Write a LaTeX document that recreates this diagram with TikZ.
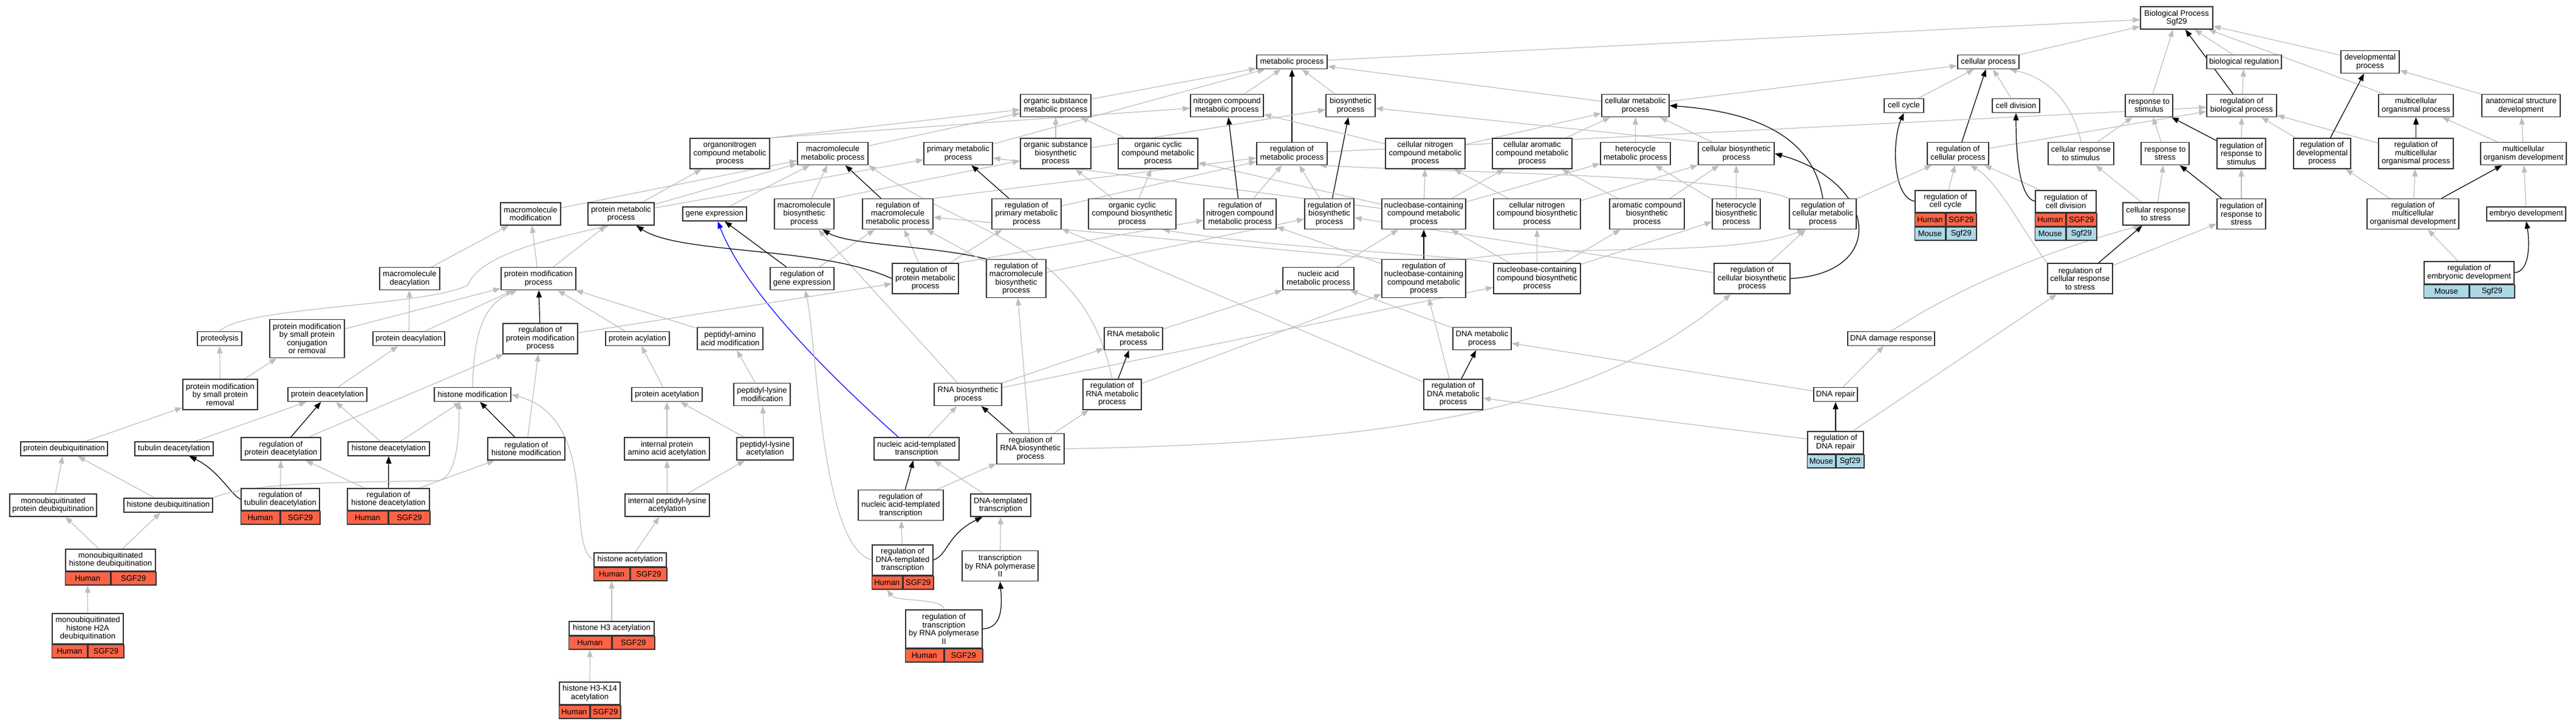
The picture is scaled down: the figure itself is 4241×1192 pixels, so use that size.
\documentclass[tikz,border=0pt]{standalone}
\usepackage{fontspec}
\setmainfont{Liberation Sans}
\usetikzlibrary{arrows.meta}
\pgfdeclarelayer{background}
\pgfsetlayers{background,main}
\definecolor{tomatoc}{HTML}{FF6347}
\definecolor{lbluec}{HTML}{ADD8E6}
\definecolor{egray}{HTML}{BEBEBE}
\definecolor{bordc}{HTML}{333333}
\newcommand\lbl{\fontsize{13}{13.5}\selectfont}
\tikzset{
 gobox/.style={draw=bordc, line width=1.5pt, fill=white, inner sep=0pt, align=center, font=\lbl},
 hcell/.style={draw=bordc, line width=1.5pt, fill=tomatoc, inner sep=0pt, minimum height=21.5pt, font=\lbl},
 mcell/.style={draw=bordc, line width=1.5pt, fill=lbluec, inner sep=0pt, minimum height=21.5pt, font=\lbl},
 gedge/.style={draw=egray, line width=1.2pt, -{Triangle[length=12pt,width=9pt]}},
 kedge/.style={draw=black, line width=1.2pt, -{Triangle[length=12pt,width=9pt]}},
 bedge/.style={draw=blue, line width=1.2pt, -{Triangle[length=12pt,width=9pt]}},
}
% id cx cy w h text
\newcommand\GOn[6]{\node[gobox, minimum width=#4pt, minimum height=#5pt] (#1) at (#2,#3) {#6};}
% id cx ytop w htext text  (Human/SGF29 row)
\newcommand\GOh[6]{%
 \node[gobox, minimum width=#4pt, minimum height=#5pt, anchor=north] (#1) at (#2,#3) {#6};
 \node[hcell, minimum width=0.5*#4pt, anchor=north east] (#1h) at (#1.south) {Human};
 \node[hcell, minimum width=0.5*#4pt, anchor=north west] (#1s) at (#1.south) {SGF29};}
\newcommand\GOhm[6]{%
 \GOh{#1}{#2}{#3}{#4}{#5}{#6}
 \node[mcell, minimum width=0.5*#4pt, anchor=north] (#1m) at (#1h.south) {Mouse};
 \node[mcell, minimum width=0.5*#4pt, anchor=north] (#1g) at (#1s.south) {Sgf29};}
\newcommand\GOm[6]{%
 \node[gobox, minimum width=#4pt, minimum height=#5pt, anchor=north] (#1) at (#2,#3) {#6};
 \node[mcell, minimum width=0.5*#4pt, anchor=north east] (#1m) at (#1.south) {Mouse};
 \node[mcell, minimum width=0.5*#4pt, anchor=north west] (#1g) at (#1.south) {Sgf29};}
\newcommand\edgG[2]{\draw[gedge] (#1) -- (#2);}
\newcommand\edgK[2]{\draw[kedge] (#1) -- (#2);}
\begin{document}
\begin{tikzpicture}[x=1pt,y=-1pt]
\useasboundingbox (0,0) rectangle (4241,1192);
% rank 0-2
\GOn{BP}{3583.5}{29.5}{119}{37}{Biological Process\\Sgf29}
\GOn{mp}{2127}{102}{116}{23}{metabolic process}
\GOn{cp}{3273.5}{102}{101}{23}{cellular process}
\GOn{br}{3694.5}{102}{123}{23}{biological regulation}
\GOn{dp}{3902}{102}{96}{37}{developmental\\process}
\GOn{osmp}{1738}{174}{116}{37}{organic substance\\metabolic process}
\GOn{ncmp}{2020}{174}{120}{37}{nitrogen compound\\metabolic process}
\GOn{bsp}{2223.5}{174}{81}{37}{biosynthetic\\process}
\GOn{cmp}{2692.5}{174}{111}{37}{cellular metabolic\\process}
\GOn{cc}{3134.5}{174}{65}{23}{cell cycle}
\GOn{cd}{3319}{174}{78}{23}{cell division}
\GOn{rts}{3538}{174}{78}{37}{response to\\stimulus}
\GOn{rbp}{3690.5}{174}{115}{37}{regulation of\\biological process}
\GOn{mop}{3977.5}{174}{123}{37}{multicellular\\organismal process}
\GOn{asd}{4150.5}{174}{129}{37}{anatomical structure\\development}
% rank 3
\GOn{oncmp}{1201.5}{253}{131}{50}{organonitrogen\\compound metabolic\\process}
\GOn{mmp}{1371}{253}{116}{37}{macromolecule\\metabolic process}
\GOn{pmp}{1577.5}{253}{113}{37}{primary metabolic\\process}
\GOn{osbp}{1738}{253}{116}{50}{organic substance\\biosynthetic\\process}
\GOn{occmp}{1906.5}{253}{131}{50}{organic cyclic\\compound metabolic\\process}
\GOn{rmp}{2127}{253}{116}{37}{regulation of\\metabolic process}
\GOn{cncmp}{2346.5}{253}{131}{50}{cellular nitrogen\\compound metabolic\\process}
\GOn{cacmp}{2522.5}{253}{131}{50}{cellular aromatic\\compound metabolic\\process}
\GOn{hmp}{2692.5}{253}{115}{37}{heterocycle\\metabolic process}
\GOn{cbp}{2858.5}{253}{125}{37}{cellular biosynthetic\\process}
\GOn{rcp}{3223.5}{253}{101}{37}{regulation of\\cellular process}
\GOn{crsti}{3426}{253}{108}{37}{cellular response\\to stimulus}
\GOn{rtstr}{3564.5}{253}{79}{37}{response to\\stress}
\GOn{rrsti}{3690}{253}{80}{50}{regulation of\\response to\\stimulus}
\GOn{rdp}{3823}{253}{94}{50}{regulation of\\developmental\\process}
\GOn{rmop}{3977.5}{253}{123}{50}{regulation of\\multicellular\\organismal process}
\GOn{mod}{4154.5}{253}{141}{37}{multicellular\\organism development}
% rank 4
\GOn{mm}{873.5}{352.5}{99}{37}{macromolecule\\modification}
\GOn{prmp}{1022.5}{352.5}{109}{37}{protein metabolic\\process}
\GOn{ge}{1176.5}{352.5}{105}{23}{gene expression}
\GOn{mbp}{1324}{352.5}{98}{50}{macromolecule\\biosynthetic\\process}
\GOn{rmmp}{1478}{352.5}{116}{50}{regulation of\\macromolecule\\metabolic process}
\GOn{rpmp}{1690}{352.5}{114}{50}{regulation of\\primary metabolic\\process}
\GOn{occbp}{1864}{352.5}{144}{50}{organic cyclic\\compound biosynthetic\\process}
\GOn{rncmp}{2041.5}{352.5}{119}{50}{regulation of\\nitrogen compound\\metabolic process}
\GOn{rbsp}{2188.5}{352.5}{81}{50}{regulation of\\biosynthetic\\process}
\GOn{nbcmp}{2344}{352.5}{138}{50}{nucleobase-containing\\compound metabolic\\process}
\GOn{cncbp}{2530.5}{352.5}{143}{50}{cellular nitrogen\\compound biosynthetic\\process}
\GOn{acbp}{2711.5}{352.5}{123}{50}{aromatic compound\\biosynthetic\\process}
\GOn{hbp}{2858.5}{352.5}{79}{50}{heterocycle\\biosynthetic\\process}
\GOn{rcmp}{3001}{352.5}{110}{50}{regulation of\\cellular metabolic\\process}
\GOhm{rcc}{3203}{313}{100}{36}{regulation of\\cell cycle}
\GOhm{rcd}{3401}{313}{100}{36}{regulation of\\cell division}
\GOn{crstr}{3549.5}{352.5}{109}{37}{cellular response\\to stress}
\GOn{rrstr}{3690}{352.5}{80}{50}{regulation of\\response to\\stress}
\GOn{rmod}{3972.5}{352.5}{151}{50}{regulation of\\multicellular\\organismal development}
\GOn{ed}{4159}{352.5}{130}{23}{embryo development}
% rank 5
\GOn{mdeac}{674.5}{459}{99}{37}{macromolecule\\deacylation}
\GOn{pmodp}{886.5}{459}{123}{37}{protein modification\\process}
\GOn{rge}{1320.5}{459}{105}{37}{regulation of\\gene expression}
\GOn{rprmp}{1523.5}{459}{109}{50}{regulation of\\protein metabolic\\process}
\GOn{rmbp}{1673}{459}{98}{63}{regulation of\\macromolecule\\biosynthetic\\process}
\GOn{namp}{2170.5}{459}{117}{37}{nucleic acid\\metabolic process}
\GOn{rnbcmp}{2344}{459}{138}{63}{regulation of\\nucleobase-containing\\compound metabolic\\process}
\GOn{nbcbp}{2530.5}{459}{143}{50}{nucleobase-containing\\compound biosynthetic\\process}
\GOn{rcbp}{2884.5}{459}{125}{50}{regulation of\\cellular biosynthetic\\process}
\GOn{rcrstr}{3424.5}{459}{107}{50}{regulation of\\cellular response\\to stress}
\GOm{red}{4065}{430}{148}{37}{regulation of\\embryonic development}
% rank 6
\GOn{prot}{361.5}{558}{73}{23}{proteolysis}
\GOn{pmsp}{505.5}{558}{123}{63}{protein modification\\by small protein\\conjugation\\or removal}
\GOn{pdeacy}{673}{558}{118}{23}{protein deacylation}
\GOn{rpmodp}{889.5}{558}{123}{50}{regulation of\\protein modification\\process}
\GOn{pacy}{1049.5}{558}{105}{23}{protein acylation}
\GOn{paam}{1202}{558}{108}{37}{peptidyl-amino\\acid modification}
\GOn{rnamp}{1866}{558}{96}{37}{RNA metabolic\\process}
\GOn{dnamp}{2440}{558}{96}{37}{DNA metabolic\\process}
\GOn{ddr}{3113.5}{558}{143}{23}{DNA damage response}
% rank 7
\GOn{pmspr}{362.5}{650}{123}{50}{protein modification\\by small protein\\removal}
\GOn{pdeace}{539}{650}{130}{23}{protein deacetylation}
\GOn{hm}{778}{650}{126}{23}{histone modification}
\GOn{pace}{1098}{650}{116}{23}{protein acetylation}
\GOn{plm}{1254.5}{650}{93}{37}{peptidyl-lysine\\modification}
\GOn{rnabp}{1593.5}{650}{111}{37}{RNA biosynthetic\\process}
\GOn{rrnamp}{1831}{650}{96}{50}{regulation of\\RNA metabolic\\process}
\GOn{rdnamp}{2392.5}{650}{97}{50}{regulation of\\DNA metabolic\\process}
\GOn{dnar}{3022}{650}{72}{23}{DNA repair}
% rank 8
\GOn{pdub}{105.5}{739.5}{143}{23}{protein deubiquitination}
\GOn{tdeac}{286.5}{739.5}{129}{23}{tubulin deacetylation}
\GOn{rpdeac}{462.5}{739.5}{131}{37}{regulation of\\protein deacetylation}
\GOn{hdeac}{640}{739.5}{134}{23}{histone deacetylation}
\GOn{rhm}{866.5}{739.5}{127}{37}{regulation of\\histone modification}
\GOn{ipaaa}{1098}{739.5}{140}{37}{internal protein\\amino acid acetylation}
\GOn{pla}{1259.5}{739.5}{93}{37}{peptidyl-lysine\\acetylation}
\GOn{natt}{1509}{739.5}{140}{37}{nucleic acid-templated\\transcription}
\GOn{rrnabp}{1696.5}{739.5}{111}{50}{regulation of\\RNA biosynthetic\\process}
\GOm{rdnar}{3022}{710}{92}{37}{regulation of\\DNA repair}
% rank 9
\GOn{mpdub}{87.5}{832.5}{143}{37}{monoubiquitinated\\protein deubiquitination}
\GOn{hdub}{277}{832.5}{146}{23}{histone deubiquitination}
\GOh{rtdeac}{461.5}{804}{129}{36}{regulation of\\tubulin deacetylation}
\GOh{rhdeac}{639.5}{804}{135}{36}{regulation of\\histone deacetylation}
\GOn{ipla}{1098.5}{832.5}{139}{37}{internal peptidyl-lysine\\acetylation}
\GOn{rnatt}{1483}{832.5}{140}{50}{regulation of\\nucleic acid-templated\\transcription}
\GOn{dtt}{1647.5}{832.5}{99}{37}{DNA-templated\\transcription}
% rank 10
\GOh{mhdub}{182}{904}{148}{36}{monoubiquitinated\\histone deubiquitination}
\GOh{hac}{1037.5}{910}{119}{23}{histone acetylation}
\GOh{rdtt}{1486}{897}{100}{50}{regulation of\\DNA-templated\\transcription}
\GOn{trp2}{1646.5}{932.5}{125}{50}{transcription\\by RNA polymerase\\II}
% rank 11-12
\GOh{mh2a}{144.5}{1010}{117}{50}{monoubiquitinated\\histone H2A\\deubiquitination}
\GOh{h3ac}{1007}{1023}{140}{23}{histone H3 acetylation}
\GOh{rtrp2}{1554}{1004}{126}{63}{regulation of\\transcription\\by RNA polymerase\\II}
\GOh{h3k14}{971}{1123}{100}{37}{histone H3-K14\\acetylation}

\begin{pgfonlayer}{background}
\fill[white] (0,0) rectangle (4241,1192);
% top right
\edgG{cp}{BP} \edgG{mp}{BP} \edgG{rts}{BP} \edgK{rbp}{BP} \edgG{br}{BP} \edgG{dp}{BP} \edgG{mop}{BP}
\edgG{asd}{dp} \edgG{cd}{cp} \edgK{rcp}{cp} \edgG{cmp}{cp} \edgG{cc}{cp}
\draw[gedge] (crsti.north) .. controls (3415,180) and (3380,130) .. ([xshift=35pt]cp.south);
\edgG{crsti}{rts} \edgG{rtstr}{rts} \edgK{rrsti}{rts} \edgG{rrsti}{rbp} \edgG{rdp}{rbp} \edgG{rmop}{rbp}
\edgK{rdp}{dp} \edgK{rmop}{mop} \edgG{mod}{mop} \edgG{mod}{asd} \edgG{rcp}{rbp} \edgG{rmp}{rbp} \edgG{rbp}{br}
\edgG{rcc}{rcp} \edgG{rcd}{rcp}
\draw[kedge] (rcc.west) .. controls (3115,325) and (3115,230) .. (cc.south);
\draw[kedge] (rcd.west) .. controls (3322,325) and (3319,240) .. (cd.south);
\draw[gedge] (rcrstr.north west) .. controls (3330,380) and (3290,300) .. ([xshift=20pt]rcp.south);
\edgK{rcrstr}{crstr} \edgG{rcrstr}{rrstr}
\edgG{crstr}{crsti} \edgG{crstr}{rtstr} \edgK{rrstr}{rtstr} \edgG{rrstr}{rrsti}
\edgG{rmod}{rdp} \edgG{rmod}{rmop} \edgK{rmod}{mod} \edgG{ed}{mod} \edgG{red}{rmod}
\draw[kedge] (red.east) .. controls (4165,448) and (4165,400) .. (ed.south);
\draw[gedge] (ddr.north) .. controls (3230,470) and (3380,410) .. ([xshift=-25pt]crstr.south);
\edgG{rdnar}{rcrstr} \edgG{rcmp}{rcp}
\draw[kedge] (rcmp.north) .. controls (2985,230) and (2900,185) .. (cmp.east);
\draw[gedge] (rcmp.north west) .. controls (2850,288) and (2400,285) .. ([xshift=45pt]rmp.south);
% cellular metabolism
\edgG{cncmp}{cmp} \edgG{cacmp}{cmp} \edgG{hmp}{cmp} \edgG{cbp}{cmp} \edgG{cmp}{mp}
\draw[gedge] (cbp.north west) -- (bsp);
\edgK{rbsp}{bsp} \edgG{rbsp}{rmp}
\edgG{nbcmp}{cncmp} \edgG{nbcmp}{cacmp} \edgG{nbcmp}{hmp} \edgG{nbcmp}{occmp} \edgG{nbcmp}{pmp}
\edgG{namp}{nbcmp} \edgK{rnbcmp}{nbcmp} \edgG{rnbcmp}{rncmp}
\draw[gedge] (rnbcmp.north east) .. controls (2600,400) and (2850,425) .. ([xshift=-30pt]rcmp.south);
\draw[gedge] (rnbcmp.north west) -- (rmmp);
\edgG{cncbp}{cncmp} \edgG{cncbp}{cbp} \edgG{acbp}{cacmp} \edgG{acbp}{cbp} \edgG{hbp}{hmp} \edgG{hbp}{cbp}
\edgG{nbcbp}{cncbp} \edgG{nbcbp}{acbp} \edgG{nbcbp}{hbp} \edgG{nbcbp}{nbcmp}
\draw[gedge] (nbcbp.north west) .. controls (2400,420) and (2100,410) .. ([xshift=50pt]occbp.south);
\edgG{rcbp}{rcmp} \edgG{rcbp}{rbsp}
\draw[kedge] (rcbp.east) .. controls (3110,450) and (3090,300) .. (cbp.east);
\edgG{dnar}{dnamp} \edgG{dnar}{ddr} \edgK{rdnamp}{dnamp} \edgG{rdnamp}{rnbcmp} \edgG{rdnamp}{rpmp}
\edgG{rdnar}{rdnamp} \edgK{rdnar}{dnar}
\edgG{rnabp}{nbcbp} \edgG{rnabp}{rnamp} \edgG{rnabp}{mbp}
\draw[gedge] (rrnabp.east) .. controls (2350,730) and (2640,660) .. ([xshift=-35pt]rcbp.south);
\edgK{rrnabp}{rnabp} \edgG{rrnabp}{rrnamp} \edgG{rrnabp}{rmbp}
\edgK{rrnamp}{rnamp} \edgG{rrnamp}{rnbcmp}
\draw[gedge] (rrnamp.north) .. controls (1785,400) and (1600,390) .. (mmp.south east);
\edgG{rnamp}{namp} \edgG{dnamp}{namp}
% transcription
\edgG{natt}{rnabp}
\draw[bedge] ([xshift=-30pt]natt.north) .. controls (1300,560) and (1215,450) .. ([xshift=5pt]ge.south);
\edgK{rnatt}{natt} \edgG{rnatt}{rrnabp} \edgG{dtt}{natt}
\edgG{rdtt}{rnatt}
\draw[kedge] (rdtt.east) .. controls (1560,915) and (1560,880) .. ([xshift=-30pt]dtt.south);
\draw[gedge] (rdtt.west) .. controls (1350,900) and (1345,560) .. ([xshift=5pt]rge.south);
\edgG{trp2}{dtt}
\draw[kedge] (rtrp2.east) .. controls (1650,1035) and (1650,1000) .. (trp2.south);
\draw[gedge] (rtrp2.north) .. controls (1554,985) and (1475,992) .. (rdtth.south);
% acetylation
\edgG{h3k14}{h3ach} \edgG{h3ac}{hach} \edgG{hac}{ipla}
\draw[gedge] (hac.west) .. controls (930,900) and (990,690) .. (hm.east);
\edgG{ipla}{ipaaa} \edgG{ipla}{pla} \edgG{ipaaa}{pace} \edgG{pla}{pace} \edgG{pla}{plm}
\edgG{pace}{pacy} \edgG{plm}{paam} \edgG{paam}{pmodp} \edgG{pacy}{pmodp}
\edgK{rpmodp}{pmodp} \edgG{rpmodp}{rprmp}
\draw[gedge] (hm.north) .. controls (780,540) and (800,500) .. ([xshift=-35pt]pmodp.south);
\edgK{rhm}{hm} \edgG{rhm}{rpmodp}
% deacetylation / deubiquitination
\edgK{rhdeac}{hdeac} \edgG{rhdeac}{rhm} \edgG{rhdeac}{rpdeac} \edgG{rtdeac}{rpdeac}
\draw[kedge] (rtdeac.west) .. controls (380,815) and (360,775) .. ([xshift=25pt]tdeac.south);
\edgG{hdeac}{pdeace} \edgG{hdeac}{hm} \edgG{tdeac}{pdeace} \edgK{rpdeac}{pdeace} \edgG{rpdeac}{rpmodp}
\edgG{pdeace}{pdeacy} \edgG{pdeacy}{mdeac} \edgG{pdeacy}{pmodp} \edgG{mdeac}{mm}
\edgG{pmodp}{mm} \edgG{pmodp}{prmp} \edgG{pmsp}{pmodp}
\draw[gedge] (prot.north) .. controls (400,505) and (700,505) .. (770,470) .. controls (790,420) and (900,395) .. ([xshift=-20pt]prmp.south);
\edgG{pmspr}{pmsp} \edgG{pmspr}{prot} \edgG{pdub}{pmspr} \edgG{mpdub}{pdub} \edgG{hdub}{pdub}
\draw[gedge] (hdub.north east) .. controls (420,792) and (600,795) .. (720,792) .. controls (752,790) and (756,720) .. ([xshift=-22pt]hm.south);
\edgG{mhdub}{mpdub} \edgG{mhdub}{hdub} \edgG{mh2a}{mhdubh}
% macromolecule / primary metabolism
\edgG{ge}{mmp} \edgK{rge}{ge} \edgG{rge}{rmmp} \edgG{mm}{mmp}
\edgG{prmp}{mmp} \edgG{prmp}{oncmp} \edgG{prmp}{pmp}
\draw[gedge] (oncmp.north east) -- (osmp);
\draw[gedge] (oncmp.north east) -- (ncmp);
\edgG{mmp}{osmp}
\edgG{pmp}{mp} \edgG{osmp}{mp} \edgG{ncmp}{mp} \edgK{rmp}{mp} \edgG{bsp}{mp}
\edgG{osbp}{osmp} \edgG{osbp}{bsp} \edgG{occmp}{osmp} \edgG{occbp}{occmp} \edgG{occbp}{osbp}
\edgG{cncmp}{ncmp} \edgG{mbp}{mmp}
\draw[gedge] (mbp.north east) -- (osbp);
\edgK{rmmp}{mmp}
\draw[gedge] (rmmp.north east) -- (rmp);
\edgK{rpmp}{pmp} \edgG{rpmp}{rmp} \edgK{rncmp}{ncmp} \edgG{rncmp}{rmp}
\draw[kedge] (rprmp.west) .. controls (1350,405) and (1120,420) .. ([xshift=25pt]prmp.south);
\edgG{rprmp}{rmmp} \edgG{rprmp}{rpmp}
\draw[gedge] (rprmp.north east) -- (rncmp);
\draw[kedge] (rmbp.north west) .. controls (1540,405) and (1400,405) .. ([xshift=30pt]mbp.south);
\edgG{rmbp}{rmmp} \edgG{rmbp}{rbsp}
\end{pgfonlayer}
\end{tikzpicture}
\end{document}
